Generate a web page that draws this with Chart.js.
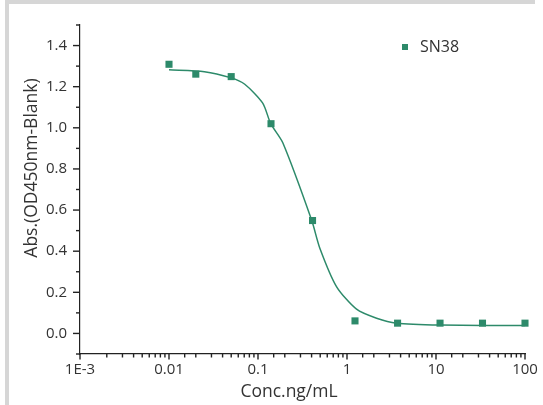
<!DOCTYPE html>
<html>
<head>
<meta charset="utf-8">
<script src="https://cdn.jsdelivr.net/npm/chart.js@4.4.1/dist/chart.umd.min.js"></script>
<style>
  html, body { margin: 0; padding: 0; background: #fff; }
  #wrap { position: relative; width: 543px; height: 405px; }
  #frameTop { position: absolute; left: 5px; top: 0; width: 530px; height: 4px; background: #d6d6d6; }
  #frameLeft { position: absolute; left: 5px; top: 0; width: 4px; height: 405px; background: #d6d6d6; }
  canvas { position: absolute; left: 0; top: 0; }
</style>
</head>
<body>
<div id="wrap">
  <div id="frameTop"></div>
  <div id="frameLeft"></div>
  <canvas id="chart" width="543" height="405"></canvas>
</div>
<script>
// measured points
const concentrations = [0.01, 0.02, 0.05, 0.14, 0.41, 1.23, 3.7, 11.1, 33.3, 100];
const absorbance = [1.309, 1.261, 1.249, 1.020, 0.549, 0.061, 0.050, 0.050, 0.050, 0.050];

// fitted curve
const fitConc = [0.01, 0.025, 0.049, 0.071, 0.113, 0.139, 0.19, 0.402, 0.494, 0.762, 1.28, 2.15, 3.6, 11.1, 100];
const fitAbs = [1.282, 1.273, 1.244, 1.212, 1.120, 1.020, 0.927, 0.549, 0.416, 0.228, 0.118, 0.074, 0.050, 0.041, 0.038];

const xTickLabels = { '-3': '1E-3', '-2': '0.01', '-1': '0.1', '0': '1', '1': '10', '2': '100' };
const seriesName = 'SN38';
const xTitle = 'Conc.ng/mL';
const yTitle = 'Abs.(OD450nm-Blank)';

const GREEN = '#2d8a6a';
const INK = '#222';
const FONT = "'Open Sans', sans-serif";

const isDecade = v => Math.abs(Math.log10(v) - Math.round(Math.log10(v))) < 1e-6;
const isEvenTenth = v => Math.round(v * 10) % 2 === 0;

// all tick marks (long major, short minor), axis titles and legend
const extras = {
  id: 'extras',
  afterDraw(chart) {
    const ctx = chart.ctx;
    const xs = chart.scales.x;
    const ys = chart.scales.y;
    const area = chart.chartArea;
    ctx.save();
    ctx.strokeStyle = INK;
    ctx.lineWidth = 1.4;
    for (const t of xs.ticks) {
      const px = xs.getPixelForValue(t.value);
      const len = isDecade(t.value) ? 5.5 : 3.5;
      ctx.beginPath();
      ctx.moveTo(px, area.bottom);
      ctx.lineTo(px, area.bottom + len);
      ctx.stroke();
    }
    for (const t of ys.ticks) {
      const py = ys.getPixelForValue(t.value);
      const len = isEvenTenth(t.value) ? 7 : 4;
      ctx.beginPath();
      ctx.moveTo(area.left, py);
      ctx.lineTo(area.left - len, py);
      ctx.stroke();
    }

    ctx.fillStyle = '#333';
    ctx.font = '17.5px ' + FONT;
    ctx.textAlign = 'center';
    ctx.textBaseline = 'middle';
    ctx.fillText(xTitle, 289, 392);
    ctx.translate(32, 168);
    ctx.rotate(-Math.PI / 2);
    ctx.fillText(yTitle, 0, 0);
    ctx.setTransform(1, 0, 0, 1, 0, 0);

    // legend
    ctx.fillStyle = GREEN;
    ctx.fillRect(402, 44, 6, 6);
    ctx.fillStyle = '#333';
    ctx.font = '16px ' + FONT;
    ctx.textAlign = 'left';
    ctx.fillText(seriesName, 420, 47.5);
    ctx.restore();
  }
};

new Chart(document.getElementById('chart'), {
  type: 'scatter',
  data: {
    datasets: [
      {
        label: seriesName,
        data: concentrations.map((c, i) => ({ x: c, y: absorbance[i] })),
        backgroundColor: GREEN,
        borderColor: GREEN,
        pointStyle: 'rect',
        pointRadius: 5,
        pointHoverRadius: 5,
        borderWidth: 0,
        clip: false
      },
      {
        label: 'fit',
        type: 'line',
        data: fitConc.map((c, i) => ({ x: c, y: fitAbs[i] })),
        borderColor: GREEN,
        borderWidth: 1.5,
        pointRadius: 0,
        tension: 0.25,
        fill: false
      }
    ]
  },
  options: {
    responsive: false,
    animation: false,
    layout: { padding: { left: 8, top: 25, right: 18, bottom: 0 } },
    plugins: {
      legend: { display: false },
      tooltip: { enabled: false }
    },
    scales: {
      x: {
        type: 'logarithmic',
        min: 0.001,
        max: 100,
        border: { display: true, color: INK, width: 1.2 },
        grid: { drawOnChartArea: false, color: 'transparent', tickLength: 5 },
        ticks: {
          autoSkip: false,
          maxRotation: 0,
          color: '#333',
          padding: 2,
          font: { family: FONT, size: 15 },
          callback: v => isDecade(v) ? xTickLabels[String(Math.round(Math.log10(v)))] : ''
        },
        afterFit: s => { s.height = 51; }
      },
      y: {
        min: -0.1,
        max: 1.5,
        border: { display: true, color: INK, width: 1.2 },
        grid: { drawOnChartArea: false, color: 'transparent', tickLength: 7 },
        ticks: {
          stepSize: 0.1,
          autoSkip: false,
          color: '#333',
          padding: 6,
          font: { family: FONT, size: 15 },
          callback: v => (isEvenTenth(v) && v > -0.05) ? v.toFixed(1) : ''
        },
        afterFit: s => { s.width = 72; }
      }
    }
  },
  plugins: [extras]
});
</script>
</body>
</html>
